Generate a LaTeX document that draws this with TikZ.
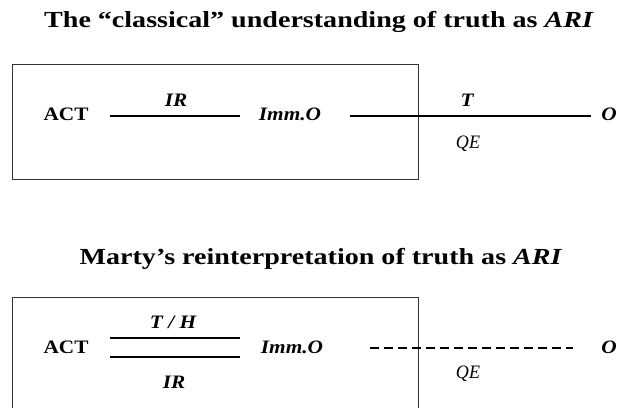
\documentclass[tikz,border=0pt]{standalone}
\usepackage{fontspec}
\setmainfont[FakeStretch=1.12]{Liberation Serif}
\newfontfamily\ttlfont[FakeStretch=1.22]{Liberation Serif}
\newfontfamily\qefont[FakeStretch=0.95]{Liberation Serif}
\begin{document}
\begin{tikzpicture}[x=1pt,y=1pt,
  ttl/.style={font=\ttlfont\fontsize{23}{27}\selectfont\bfseries, inner sep=0pt},
  lbl/.style={font=\fontsize{19}{22}\selectfont\bfseries\itshape, inner sep=0pt},
  act/.style={font=\fontsize{19}{22}\selectfont\bfseries, inner sep=0pt},
  qe/.style={font=\qefont\fontsize{19}{22}\selectfont\itshape, inner sep=0pt},
  link/.style={line width=1.8pt},
  frame/.style={line width=1pt, draw=black!80}]
\useasboundingbox (0,0) rectangle (617,407);
% ---- top diagram
\node[ttl] (t1) at (319,385) {The \textquotedblleft classical\textquotedblright\ understanding of truth as \textit{ARI}};
\draw[frame] (12,227) rectangle (418,342);
\node[act] (act1) at (66,293) {ACT};
\node[lbl] (imm1) at (290,293) {Imm.O};
\node[lbl] (o1) at (609,293) {O};
\coordinate (a1) at (110,291);
\coordinate (b1) at (240,291);
\coordinate (c1) at (350,291);
\coordinate (d1) at (591,291);
\draw[link] (a1) -- (b1);
\draw[link] (c1) -- (d1);
\node[lbl] (ir1) at (176,307) {IR};
\node[lbl] (tt1) at (467,307) {T};
\node[qe] (qe1) at (468,263) {QE};
% ---- bottom diagram
\node[ttl] (t2) at (321,148) {Marty\textquoteright s reinterpretation of truth as \textit{ARI}};
\draw[frame] (12,-2) -- (12,110) -- (418,110) -- (418,-2);
\node[act] (act2) at (66,60) {ACT};
\node[lbl] (imm2) at (292,60) {Imm.O};
\node[lbl] (o2) at (609,60) {O};
\coordinate (a2) at (110,69);
\coordinate (b2) at (240,69);
\coordinate (a3) at (110,50);
\coordinate (b3) at (240,50);
\draw[link] (a2) -- (b2);
\draw[link] (a3) -- (b3);
\node[lbl] (th2) at (173,85) {T / H};
\node[lbl] (ir2) at (174,25) {IR};
\coordinate (c2) at (370,59);
\coordinate (d2) at (573,59);
\draw[line width=1.3pt, dash pattern=on 9pt off 5pt] (c2) -- (d2);
\node[qe] (qe2) at (468,33) {QE};
\end{tikzpicture}
\end{document}
